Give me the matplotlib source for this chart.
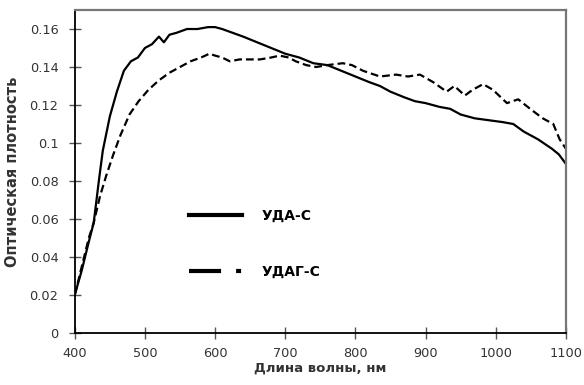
import matplotlib
matplotlib.use("Agg")
import matplotlib.pyplot as plt
from matplotlib.lines import Line2D

# wavelength (nm) and optical density
wl_uda = [400, 410, 420, 427, 435, 440, 450, 460, 470, 480, 490, 500, 510, 520,
          527, 535, 545, 560, 575, 590, 600, 610, 625, 640, 660, 680, 700, 720,
          740, 760, 780, 800, 820, 835, 850, 870, 885, 900, 920, 935, 950, 970,
          990, 1010, 1025, 1040, 1060, 1080, 1090, 1100]
od_uda = [0.020, 0.033, 0.048, 0.058, 0.082, 0.096, 0.114, 0.127, 0.138, 0.143,
          0.145, 0.150, 0.152, 0.156, 0.153, 0.157, 0.158, 0.160, 0.160, 0.161,
          0.161, 0.160, 0.158, 0.156, 0.153, 0.150, 0.147, 0.145, 0.142, 0.141,
          0.138, 0.135, 0.132, 0.130, 0.127, 0.124, 0.122, 0.121, 0.119, 0.118,
          0.115, 0.113, 0.112, 0.111, 0.110, 0.106, 0.102, 0.097, 0.094, 0.089]

wl_udag = [400, 410, 420, 427, 436, 445, 455, 465, 478, 491, 505, 520, 535, 550,
           565, 580, 592, 600, 610, 621, 635, 650, 664, 680, 692, 705, 715, 730,
           744, 760, 782, 795, 811, 835, 858, 875, 892, 911, 930, 941, 956, 967,
           982, 996, 1016, 1032, 1049, 1067, 1082, 1091, 1100]
od_udag = [0.020, 0.035, 0.050, 0.058, 0.072, 0.083, 0.094, 0.104, 0.115, 0.122,
           0.128, 0.133, 0.137, 0.140, 0.143, 0.145, 0.147, 0.146, 0.145, 0.143,
           0.144, 0.144, 0.144, 0.145, 0.146, 0.145, 0.143, 0.141, 0.140, 0.141,
           0.142, 0.141, 0.138, 0.135, 0.136, 0.135, 0.136, 0.132, 0.127, 0.130,
           0.125, 0.128, 0.131, 0.128, 0.121, 0.123, 0.118, 0.113, 0.110, 0.102,
           0.097]

x_ticks = [400, 500, 600, 700, 800, 900, 1000, 1100]
y_ticks = [0, 0.02, 0.04, 0.06, 0.08, 0.1, 0.12, 0.14, 0.16]
y_tick_labels = ["0", "0.02", "0.04", "0.06", "0.08", "0.1", "0.12", "0.14", "0.16"]

plt.rcParams['font.family'] = ['DejaVu Sans']

fig = plt.figure(figsize=(5.84, 3.85), dpi=100)
ax = fig.add_axes([0.128, 0.135, 0.841, 0.839])

ax.plot(wl_uda, od_uda, color="black", lw=1.6)
ax.plot(wl_udag, od_udag, color="black", lw=1.6, dashes=(3.5, 1.8))

ax.set_xlim(400, 1100)
ax.set_ylim(0, 0.17)
ax.set_xticks(x_ticks)
ax.set_yticks(y_ticks)
ax.set_yticklabels(y_tick_labels)
ax.tick_params(direction="inout", length=8.5, width=1, labelsize=9.3,
               labelcolor="#333333", color="#555555")
ax.tick_params(axis="y", pad=7.5)
ax.tick_params(axis="x", pad=6)

for s in ["left", "bottom"]:
    ax.spines[s].set_color("black")
    ax.spines[s].set_linewidth(1.3)
for s in ["top", "right"]:
    ax.spines[s].set_color("#777777")
    ax.spines[s].set_linewidth(1.6)

ax.set_xlabel("Длина волны, нм", fontsize=9.5, fontweight="bold",
              color="#333333", labelpad=1)
ax.set_ylabel("Оптическая плотность", fontsize=10.5, fontweight="bold",
              color="#333333", labelpad=7)

h1 = Line2D([], [], color="black", lw=3)
h2 = Line2D([], [], color="black", lw=3, dashes=(7.7, 3.6, 1.2, 3.6))
leg = ax.legend([h1, h2], ["УДА-С", "УДАГ-С"], loc="center left",
                bbox_to_anchor=(0.208, 0.277), frameon=False,
                handlelength=3.8, labelspacing=3.0, handletextpad=1.4,
                prop={"weight": "bold", "size": 10})

fig.savefig("out.png", dpi=100)
